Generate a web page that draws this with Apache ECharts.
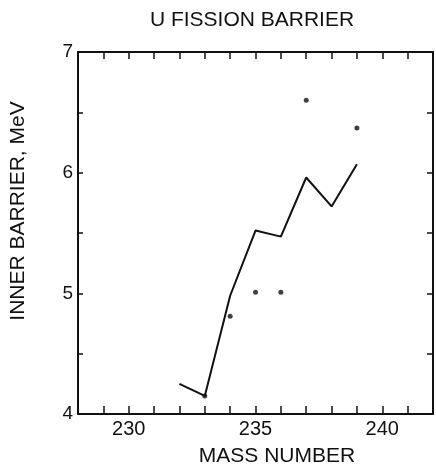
<!DOCTYPE html>
<html>
<head>
<meta charset="utf-8">
<script src="https://cdn.jsdelivr.net/npm/echarts@6/dist/echarts.min.js"></script>
<style>
  html, body { margin: 0; padding: 0; background: #fff; }
  #chart { width: 436px; height: 471px; }
</style>
</head>
<body>
<div id="chart"></div>
<script>
// Calculated inner fission barrier for uranium isotopes (line)
const calcMass = [232, 233, 234, 235, 236, 237, 238, 239];
const calcBarrier = [4.25, 4.15, 4.98, 5.52, 5.47, 5.96, 5.72, 6.07];

// Measured values (dots)
const expMass = [233, 234, 235, 236, 237, 239];
const expBarrier = [4.15, 4.81, 5.01, 5.01, 6.60, 6.37];

// Labelled ticks
const xTickLabels = [230, 235, 240];
const yTickLabels = [4, 5, 6, 7];

const ink = '#111';
const font = '"Liberation Sans", Arial, sans-serif';

const chart = echarts.init(document.getElementById('chart'));

const lineData = calcMass.map((m, i) => [m, calcBarrier[i]]);
const dotData = expMass.map((m, i) => [m, expBarrier[i]]);

const axisLineStyle = { show: true, lineStyle: { color: ink, width: 2 } };

chart.setOption({
  animation: false,
  backgroundColor: '#fff',
  grid: { left: 78, right: 2, top: 52, bottom: 57, containLabel: false },
  xAxis: [
    {
      type: 'value', min: 228, max: 242, interval: 1, position: 'bottom',
      axisLine: axisLineStyle,
      axisTick: { show: true, inside: true, length: 8, lineStyle: { color: ink, width: 1.5 } },
      axisLabel: {
        color: ink, fontFamily: font, fontSize: 20, margin: 5,
        formatter: v => (xTickLabels.includes(v) ? String(v) : '')
      },
      splitLine: { show: false }
    },
    {
      type: 'value', min: 228, max: 242, interval: 1, position: 'top',
      axisLine: axisLineStyle,
      axisTick: { show: true, inside: true, length: 7, lineStyle: { color: ink, width: 1.5 } },
      axisLabel: { show: false },
      splitLine: { show: false }
    }
  ],
  yAxis: [
    {
      type: 'value', min: 4, max: 7, interval: 0.5, position: 'left',
      axisLine: axisLineStyle,
      axisTick: { show: true, inside: true, length: 5, lineStyle: { color: ink, width: 1.5 } },
      axisLabel: {
        color: ink, fontFamily: font, fontSize: 19, margin: 5,
        formatter: v => (yTickLabels.includes(v) ? String(v) : '')
      },
      splitLine: { show: false }
    },
    {
      type: 'value', min: 4, max: 7, interval: 0.5, position: 'right',
      axisLine: axisLineStyle,
      axisTick: { show: true, inside: true, length: 6, lineStyle: { color: ink, width: 1.5 } },
      axisLabel: { show: false },
      splitLine: { show: false }
    }
  ],
  graphic: [
    {
      type: 'text', x: 252, y: 20,
      style: { text: 'U FISSION BARRIER', fill: ink, font: '21px ' + font, align: 'center', verticalAlign: 'middle' }
    },
    {
      type: 'text', x: 277, y: 456,
      style: { text: 'MASS NUMBER', fill: ink, font: '21px ' + font, align: 'center', verticalAlign: 'middle' }
    },
    {
      type: 'text', x: 18, y: 211, rotation: Math.PI / 2,
      style: { text: 'INNER BARRIER, MeV', fill: ink, font: '21px ' + font, align: 'center', verticalAlign: 'middle' }
    }
  ],
  series: [
    {
      name: 'calculated', type: 'line', data: lineData,
      showSymbol: false, symbol: 'none',
      lineStyle: { color: ink, width: 2 },
      z: 3
    },
    {
      name: 'measured', type: 'scatter', data: dotData,
      symbol: 'circle', symbolSize: 5,
      itemStyle: { color: ink },
      z: 4
    }
  ]
});
</script>
</body>
</html>
